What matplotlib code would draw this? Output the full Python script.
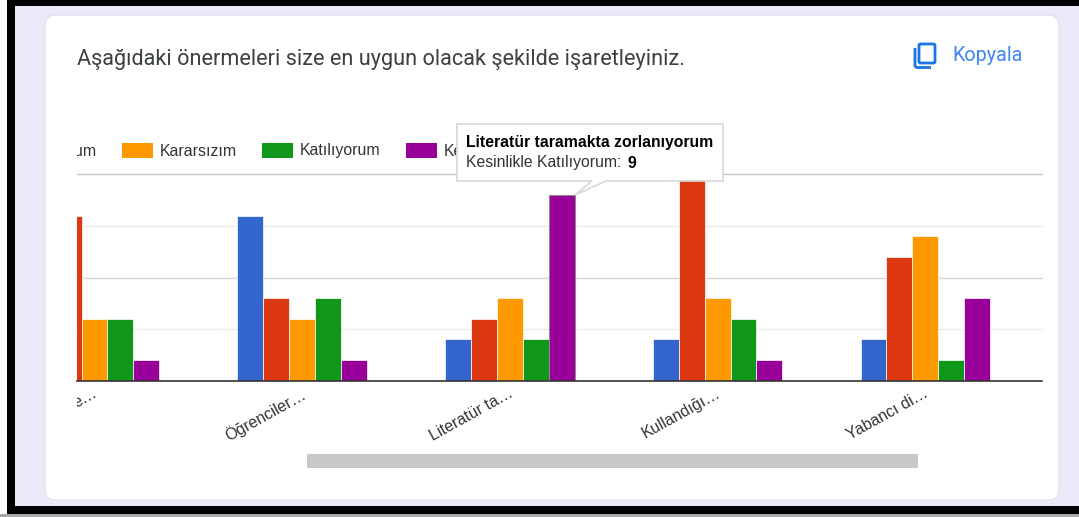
import matplotlib
matplotlib.use("Agg")
import matplotlib.pyplot as plt
from matplotlib.patches import Rectangle, FancyBboxPatch, Polygon
from matplotlib.transforms import Bbox, ScaledTranslation

W, H = 1079, 517
categories = ["e…", "Öğrenciler…", "Literatür ta…", "Kullandığı…", "Yabancı di…"]
legend_labels = ["um", "Kararsızım", "Katılıyorum", "Ke"]
blue = [0, 8, 2, 2, 2]
red = [8, 4, 3, 10, 6]
orange = [3, 3, 4, 4, 7]
green = [3, 4, 2, 3, 1]
purple = [1, 1, 9, 1, 4]
colors = ["#3366cc", "#dc3912", "#ff9900", "#109618", "#990099"]
grid_values = [2.5, 5, 7.5, 10]
grid_colors = ["#ebebeb", "#d4d4d4", "#ebebeb", "#c8c8c8"]
title = "Aşağıdaki önermeleri size en uygun olacak şekilde işaretleyiniz."
tip_title = "Literatür taramakta zorlanıyorum"
tip_label = "Kesinlikle Katılıyorum:"
tip_value = "9"

fig = plt.figure(figsize=(W / 100, H / 100), dpi=100, facecolor="white")

def pixel_axes(z):
    a = fig.add_axes([0, 0, 1, 1], zorder=z)
    a.set_xlim(0, W)
    a.set_ylim(H, 0)
    a.axis("off")
    a.patch.set_alpha(0)
    return a

bg = pixel_axes(0)
bg.add_patch(Rectangle((15, 6), W - 15, 500, fc="#ede9f8", ec="none"))
bg.add_patch(Rectangle((7, 0), W - 7, 6, fc="black", ec="none"))
bg.add_patch(Rectangle((7, 0), 8, 514, fc="black", ec="none"))
bg.add_patch(Rectangle((7, 506), W - 7, 8, fc="black", ec="none"))
bg.add_patch(Rectangle((0, 514), W, 3, fc="#a8a8a8", ec="none"))
bg.add_patch(FancyBboxPatch((45 + 11, 15 + 11), 1059 - 45 - 22, 500 - 15 - 22,
                            boxstyle="round,pad=11,rounding_size=11",
                            fc="white", ec="#e4e2ea", lw=1))
bg.text(77, 59, title, fontsize=15.6, family="Roboto", color="#3c4043", va="center", ha="left")
bg.text(952, 55.5, "Kopyala", fontsize=14.2, family="Roboto", color="#4285f4", va="center", ha="left")
icon = "#1a73e8"
bg.add_patch(FancyBboxPatch((919, 44), 16, 19, boxstyle="round,pad=0,rounding_size=1.5",
                            fc="none", ec=icon, lw=2))
bg.plot([915, 915, 916.5, 931], [48, 66, 67.5, 67.5], color=icon, lw=2, solid_capstyle="butt")

# chart
L, R, T, B = 77, 1042, 174.5, 380.5
ax = fig.add_axes([L / W, 1 - B / H, (R - L) / W, (B - T) / H], zorder=1)
ax.patch.set_alpha(0)
px = 207.7
c0 = 94.5
ax.set_xlim((L - c0) / px, (R - c0) / px)
ax.set_ylim(0, 10)
for v, c in zip(grid_values, grid_colors):
    ax.axhline(v, color=c, lw=1, zorder=1, clip_on=False)
bw = 25.9 / px
for i, (vals, c) in enumerate(zip([blue, red, orange, green, purple], colors)):
    xs = [k + (i - 2) * bw for k in range(len(categories))]
    bars = ax.bar(xs, vals, width=bw, color=c, edgecolor="white", linewidth=0.5, zorder=2)
    if c == "#990099":
        bars[2].set_edgecolor("#8a8a8a")
        bars[2].set_linewidth(0.8)
for s in ["top", "left", "right"]:
    ax.spines[s].set_visible(False)
ax.spines["bottom"].set_color("#333333")
ax.spines["bottom"].set_linewidth(1.2)
ax.set_yticks([])
ax.set_xticks(range(len(categories)))
ax.set_xticklabels(categories, rotation=29, ha="right", va="top", rotation_mode="anchor",
                   fontsize=11.5, family="Liberation Sans", color="#333333")
ax.tick_params(axis="x", length=0, pad=3.5)
clip = Bbox([[L, 0], [R, H]])
for t in ax.get_xticklabels():
    t.set_transform(t.get_transform() + ScaledTranslation(-2 / 100, 0, fig.dpi_scale_trans))
    t.set_clip_box(clip)
    t.set_clip_on(True)

# legend
ov = pixel_axes(2)
leg_y = 151
leg_txt = dict(fontsize=11.4, family="Liberation Sans", color="#333333", va="center", ha="left")
for x, n in [(122, 2), (262, 3), (406, 4)]:
    ov.add_patch(Rectangle((x, 143), 30.5, 15, fc=colors[n], ec="none"))
um = ov.text(96, leg_y, legend_labels[0], **{**leg_txt, "ha": "right"})
um.set_clip_box(clip)
um.set_clip_on(True)
ov.text(160, leg_y, legend_labels[1], **leg_txt)
ov.text(300, leg_y, legend_labels[2], **leg_txt)
ov.text(444, leg_y, legend_labels[3], **leg_txt)

# scrollbar
ov.add_patch(Rectangle((307, 454), 610, 13, fc="#c8c8c8", ec="#bdbdbd", lw=0.5))

# tooltip
tip = Polygon([(457, 124), (723, 124), (723, 181), (606, 181), (575, 195), (592, 181), (457, 181)],
              closed=True, fc="white", ec="#d8d8d8", lw=1.2, zorder=5)
ov.add_patch(tip)
ov.text(466, 142, tip_title, fontsize=11.3, family="Liberation Sans", weight="bold",
        color="black", va="center", ha="left", zorder=6)
ov.text(466, 163, tip_label, fontsize=11.3, family="Liberation Sans",
        color="#333333", va="center", ha="left", zorder=6)
ov.text(627, 163, tip_value, fontsize=11.3, family="Liberation Sans", weight="bold",
        color="black", va="center", ha="left", zorder=6)

fig.savefig("out.png", dpi=100)
